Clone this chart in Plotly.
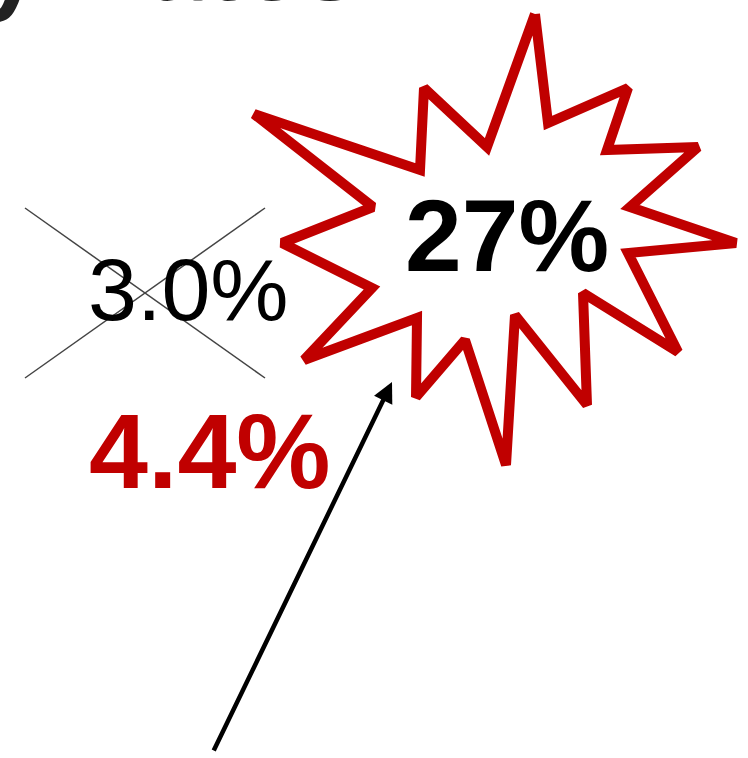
import plotly.graph_objects as go

# Values shown on the slide
old_rate_label = "3.0%"
new_rate_label = "4.4%"
burst_label = "27%"
title_fragment = "y Rates"

# Starburst outline vertices (tip, inner, tip, inner ...) in page units
burst_x = [535, 548, 628, 607, 698, 630, 736, 628, 678, 583, 587, 515, 506, 465,
           416, 417, 304, 372, 282, 373, 254, 420, 424, 487, 535]
burst_y = [14, 123, 88, 150, 147, 207, 243, 253, 352, 293, 405, 315, 465, 340,
           397, 318, 360, 288, 243, 207, 114, 170, 88, 147, 14]

W, H = 748, 758
fig = go.Figure()
fig.add_trace(go.Scatter(
    x=burst_x, y=burst_y, mode="lines", fill="toself", fillcolor="white",
    line=dict(color="#C00000", width=10), hoverinfo="skip", showlegend=False))

# strike-through cross over the old rate
fig.add_shape(type="line", x0=25, y0=208, x1=265, y1=378,
              line=dict(color="#444444", width=1.5))
fig.add_shape(type="line", x0=25, y0=378, x1=265, y1=208,
              line=dict(color="#444444", width=1.5))

fig.add_annotation(x=188, y=289, text=old_rate_label, showarrow=False,
                   font=dict(family="Liberation Sans", size=88, color="black"))
fig.add_annotation(x=210, y=451, text=f"<b>{new_rate_label}</b>", showarrow=False,
                   font=dict(family="Liberation Sans", size=106, color="#C00000"))
fig.add_annotation(x=507, y=236, text=f"<b>{burst_label}</b>", showarrow=False,
                   font=dict(family="Liberation Sans", size=102, color="black"))
# slide title, mostly above the visible crop (as in the reference)
fig.add_annotation(x=0, y=1, xref="paper", yref="paper", text=f"<b>{title_fragment}</b>",
                   showarrow=False, xanchor="left", yanchor="bottom", xshift=-20, yshift=-24,
                   font=dict(family="Liberation Sans", size=106, color="#222222"))

# arrow
fig.add_annotation(x=392, y=382, ax=213, ay=752, xref="x", yref="y", axref="x", ayref="y",
                   text="", showarrow=True, arrowhead=2, arrowsize=0.9, arrowwidth=4.5,
                   arrowcolor="black")

fig.update_layout(width=W, height=H, margin=dict(l=0, r=0, t=0, b=0),
                  paper_bgcolor="white", plot_bgcolor="white",
                  xaxis=dict(range=[0, W], visible=False, fixedrange=True),
                  yaxis=dict(range=[H, 0], visible=False, fixedrange=True))
fig.write_html("out.html", config={"displayModeBar": False},
               post_script="document.body.style.margin='0';document.body.style.overflow='hidden';")
